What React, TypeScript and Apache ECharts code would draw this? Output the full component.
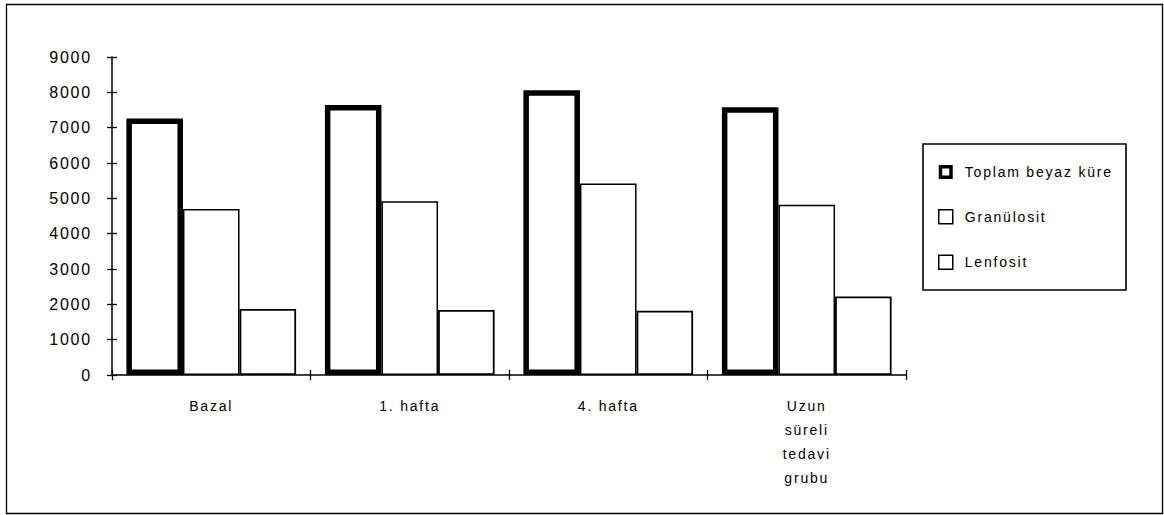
import React, { useEffect, useRef } from "react";
import * as echarts from "echarts";

const categories = ["Bazal", "1. hafta", "4. hafta", "Uzun\nsüreli\ntedavi\ngrubu"];
const seriesNames = ["Toplam beyaz küre", "Granülosit", "Lenfosit"];
const toplamBeyazKure = [7260, 7640, 8060, 7580];
const granulosit = [4700, 4920, 5420, 4820];
const lenfosit = [1870, 1840, 1820, 2220];
const yMin = 0;
const yMax = 9000;
const yInterval = 1000;

const FONT = "'Liberation Sans', Arial, Helvetica, sans-serif";

export default function App() {
  const ref = useRef<HTMLDivElement>(null);

  useEffect(() => {
    if (!ref.current) return;
    const chart = echarts.init(ref.current, undefined, { renderer: "svg" });
    const axisLineStyle = { color: "#000", width: 1.5 };
    const tickStyle = { color: "#000", width: 1.3 };
    const option: any = {
      animation: false,
      backgroundColor: "#fff",
      textStyle: { fontFamily: FONT, color: "#000" },
      grid: { left: 112, right: 258, top: 57, bottom: 140, containLabel: false },
      xAxis: [
        {
          type: "category",
          data: categories,
          position: "bottom",
          axisLine: { show: true, lineStyle: axisLineStyle },
          axisTick: { show: true, length: 5, lineStyle: tickStyle },
          axisLabel: {
            show: true,
            interval: 0,
            fontSize: 14,
            fontFamily: FONT,
            color: "#000",
            margin: 19,
            lineHeight: 24,
          },
          splitLine: { show: false },
        },
        {
          type: "category",
          data: categories,
          position: "bottom",
          axisLine: { show: false },
          axisTick: { show: true, inside: true, length: 5, lineStyle: tickStyle },
          axisLabel: { show: false },
          splitLine: { show: false },
        },
      ],
      yAxis: [
        {
          type: "value",
          min: yMin,
          max: yMax,
          interval: yInterval,
          position: "left",
          axisLine: { show: true, lineStyle: axisLineStyle },
          axisTick: { show: true, length: 5, lineStyle: tickStyle },
          axisLabel: {
            fontSize: 16,
            fontFamily: FONT,
            color: "#000",
            margin: 20,
            formatter: (v: number) => String(v),
          },
          splitLine: { show: false },
        },
        {
          type: "value",
          min: yMin,
          max: yMax,
          interval: yInterval,
          position: "left",
          axisLine: { show: false },
          axisTick: { show: true, inside: true, length: 5, lineStyle: tickStyle },
          axisLabel: { show: false },
          splitLine: { show: false },
        },
      ],
      legend: {
        orient: "vertical",
        left: 938,
        top: 165,
        padding: 0,
        itemWidth: 14,
        itemHeight: 14,
        itemGap: 30,
        selectedMode: false,
        textStyle: { fontSize: 14, fontFamily: FONT, color: "#000", padding: [0, 0, 0, 7] },
        data: [
          {
            name: seriesNames[0],
            icon: "path://M0,0H14V14H0ZM3.5,3.5V10.5H10.5V3.5Z",
            itemStyle: { color: "#000", borderWidth: 0 },
          },
          {
            name: seriesNames[1],
            icon: "rect",
            itemStyle: { color: "#fff", borderColor: "#000", borderWidth: 1.5 },
          },
          {
            name: seriesNames[2],
            icon: "rect",
            itemStyle: { color: "#fff", borderColor: "#000", borderWidth: 1.5 },
          },
        ],
      },
      graphic: [
        {
          type: "rect",
          silent: true,
          shape: { x: 6.5, y: 4.5, width: 1156, height: 509 },
          style: { fill: "none", stroke: "#000", lineWidth: 1.3 },
        },
        {
          type: "rect",
          silent: true,
          shape: { x: 923, y: 144, width: 203, height: 146 },
          style: { fill: "none", stroke: "#000", lineWidth: 1.6 },
        },
      ],
      series: [
        {
          name: seriesNames[0],
          type: "bar",
          data: toplamBeyazKure,
          barGap: "0%",
          barCategoryGap: "14.5%",
          itemStyle: { color: "#fff", borderColor: "#000", borderWidth: 5.5 },
        },
        {
          name: seriesNames[1],
          type: "bar",
          data: granulosit,
          itemStyle: { color: "#fff", borderColor: "#000", borderWidth: 1.5 },
        },
        {
          name: seriesNames[2],
          type: "bar",
          data: lenfosit,
          itemStyle: { color: "#fff", borderColor: "#000", borderWidth: 1.8 },
        },
      ],
    };
    chart.setOption(option);
    return () => chart.dispose();
  }, []);

  return (
    <>
      <style>{"#chart-root text { letter-spacing: 1.8px; }"}</style>
      <div
        id="chart-root"
        ref={ref}
        style={{ position: "absolute", left: 0, top: 0, width: 1164, height: 515 }}
      />
    </>
  );
}
